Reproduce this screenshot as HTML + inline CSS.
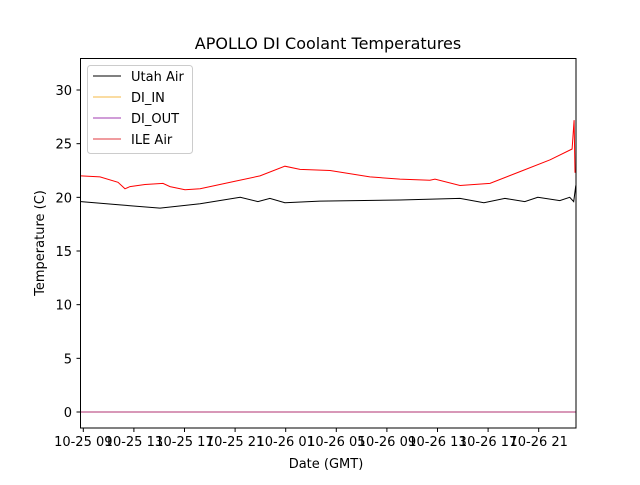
<!DOCTYPE html>
<html><head><meta charset="utf-8"><style>body{margin:0;background:#fff}svg{font-family:"DejaVu Sans","Liberation Sans",sans-serif}</style></head>
<body>
<svg id="chart" width="640" height="480" viewBox="0 0 640 480">
<rect width="640" height="480" fill="#fff"/>
<text x="328" y="49" font-size="16" text-anchor="middle">APOLLO DI Coolant Temperatures</text>
<g id="plot"></g>
<rect x="80.5" y="58.5" width="495.5" height="369.5" fill="none" stroke="#000" stroke-width="1"/>
<g id="axes"></g>
<text x="326" y="468" font-size="13" text-anchor="middle">Date (GMT)</text>
<text transform="translate(44,243) rotate(-90)" font-size="13" text-anchor="middle">Temperature (C)</text>
<g>
<rect x="87.5" y="65.5" width="105" height="88" rx="3" fill="#fff" fill-opacity="0.8" stroke="#ccc"/>
<line x1="93" y1="76" x2="121" y2="76" stroke="#000"/>
<text x="131" y="81" font-size="13">Utah Air</text>
<line x1="93" y1="97" x2="121" y2="97" stroke="#f5b945"/>
<text x="131" y="102" font-size="13">DI_IN</text>
<line x1="93" y1="118" x2="121" y2="118" stroke="#a23bb0"/>
<text x="131" y="123" font-size="13">DI_OUT</text>
<line x1="93" y1="139" x2="121" y2="139" stroke="#e0383f"/>
<text x="131" y="144" font-size="13">ILE Air</text>
</g>
</svg>
<script>
const yTicks=[0,5,10,15,20,25,30];
const xTickHours=[9,13,17,21,25,29,33,37,41,45];
const xTickLabels=["10-25 09","10-25 13","10-25 17","10-25 21","10-26 01","10-26 05","10-26 09","10-26 13","10-26 17","10-26 21"];
const ileHours=[8.82,10.32,11.74,12.30,12.69,13.88,15.30,15.85,17.04,18.23,20.99,22.97,24.94,26.13,28.5,31.66,34.03,36.4,36.8,38.78,41.15,43.52,45.9,47.64,47.8,47.87];
const ileTemps=[22.0,21.9,21.4,20.8,21.0,21.2,21.3,21.0,20.7,20.8,21.5,22.0,22.9,22.6,22.5,21.9,21.7,21.6,21.7,21.1,21.3,22.4,23.5,24.5,27.2,22.3];
const utahHours=[8.82,11.9,15.06,18.23,21.4,22.8,23.75,24.94,27.7,34.03,38.78,40.67,42.33,43.9,44.93,46.67,47.45,47.77,47.93];
const utahTemps=[19.6,19.3,19.0,19.4,20.0,19.6,19.9,19.5,19.65,19.75,19.9,19.5,19.9,19.6,20.0,19.7,20.0,19.6,21.1];
const diHours=[8.82,47.93];
const diTemps=[0,0];
const NS='http://www.w3.org/2000/svg';
const x=h=>83.3+(h-9)*12.65;
const y=t=>412-t*10.733;
const plot=document.getElementById('plot'),axes=document.getElementById('axes');
function mk(tag,attrs,parent){const e=document.createElementNS(NS,tag);for(const k in attrs)e.setAttribute(k,attrs[k]);parent.appendChild(e);return e;}
function line(hs,ts,color,name){
 const p=mk('polyline',{points:hs.map((h,i)=>x(h).toFixed(1)+','+y(ts[i]).toFixed(1)).join(' '),fill:'none',stroke:color,'stroke-width':1},plot);
 
 
}
line(diHours,diTemps,'#f5b945','di-in-line');
line(diHours,diTemps,'#b03070','di-out-line');
line(ileHours,ileTemps,'#ff0000','ile-air-line');
line(utahHours,utahTemps,'#000000','utah-air-line');
yTicks.forEach(t=>{
 const l=mk('line',{x1:76.5,x2:80.5,y1:y(t),y2:y(t),stroke:'#000'},axes);
 
 
 const tx=mk('text',{x:72,y:y(t)+5,'font-size':13,'text-anchor':'end'},axes);
 tx.textContent=t;
 
 
});
xTickHours.forEach((h,i)=>{
 const l=mk('line',{x1:x(h),x2:x(h),y1:428,y2:432,stroke:'#000'},axes);
 
 
 const tx=mk('text',{x:x(h),y:446,'font-size':13,'text-anchor':'middle'},axes);
 tx.textContent=xTickLabels[i];
 
 
});
</script>
</body></html>
